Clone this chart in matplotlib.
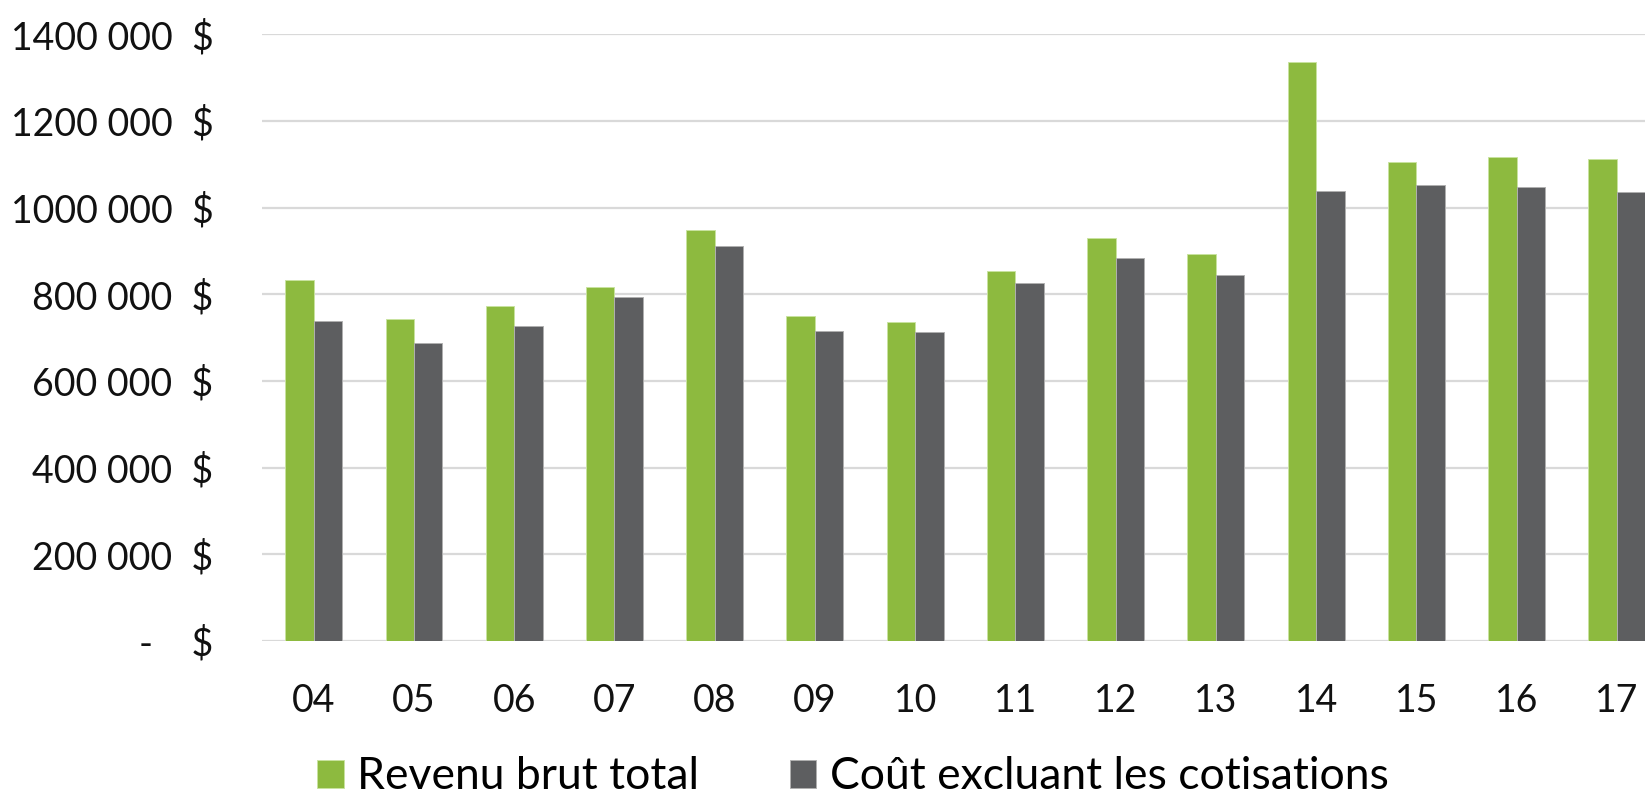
import matplotlib.pyplot as plt
import numpy as np

# annees (deux derniers chiffres)
annees = ["04", "05", "06", "07", "08", "09", "10", "11", "12", "13", "14", "15", "16", "17"]
revenu_brut = [832000, 743000, 774000, 817000, 949000, 751000, 735000, 853000, 930000, 892000,
               1336000, 1106000, 1118000, 1113000]
cout_sans_cotis = [739000, 688000, 728000, 794000, 911000, 715000, 712000, 825000, 884000, 845000,
                   1039000, 1052000, 1047000, 1035000]
y_ticks = [0, 200000, 400000, 600000, 800000, 1000000, 1200000, 1400000]
y_labels = ["-    $", "200 000  $", "400 000  $", "600 000  $", "800 000  $",
            "1000 000  $", "1200 000  $", "1400 000  $"]

vert = "#8DBA3F"
gris = "#5D5E60"
grille = "#D9D9D9"

plt.rcParams['font.family'] = ['Lato', 'DejaVu Sans']

fig = plt.figure(figsize=(16.45, 8.01), dpi=100)
ax = fig.add_axes([262 / 1645, 160 / 801, 1 - 262 / 1645, (641 - 34.3) / 801])

x = np.arange(len(annees))
w = 0.284
ax.bar(x - w / 2, revenu_brut, w, color=vert, edgecolor="#C9E3A0", linewidth=0.7,
       label="Revenu brut total", zorder=3)
ax.bar(x + w / 2, cout_sans_cotis, w, color=gris, edgecolor="#B0B0B0", linewidth=0.7,
       label="Coût excluant les cotisations", zorder=3)

ax.set_xlim(-0.516, 13.28)
ax.set_ylim(0, 1400000)
ax.set_yticks(y_ticks)
ax.set_yticklabels(y_labels, fontsize=27, color="#111111")
ax.set_xticks(x)
ax.set_xticklabels(annees, fontsize=27, color="#111111")
ax.tick_params(axis='y', length=0, pad=35)
ax.tick_params(axis='x', length=0, pad=30)
ax.grid(axis='y', color=grille, linewidth=1.6, zorder=0)
for s in ax.spines.values():
    s.set_visible(False)

leg = fig.legend(loc='center', bbox_to_anchor=(0.5185, 0.03), ncol=2, frameon=False,
                 fontsize=32, handlelength=0.59, handleheight=0.59, handletextpad=0.3,
                 columnspacing=2.05, borderpad=0.1)

fig.savefig("out.png", dpi=100)
